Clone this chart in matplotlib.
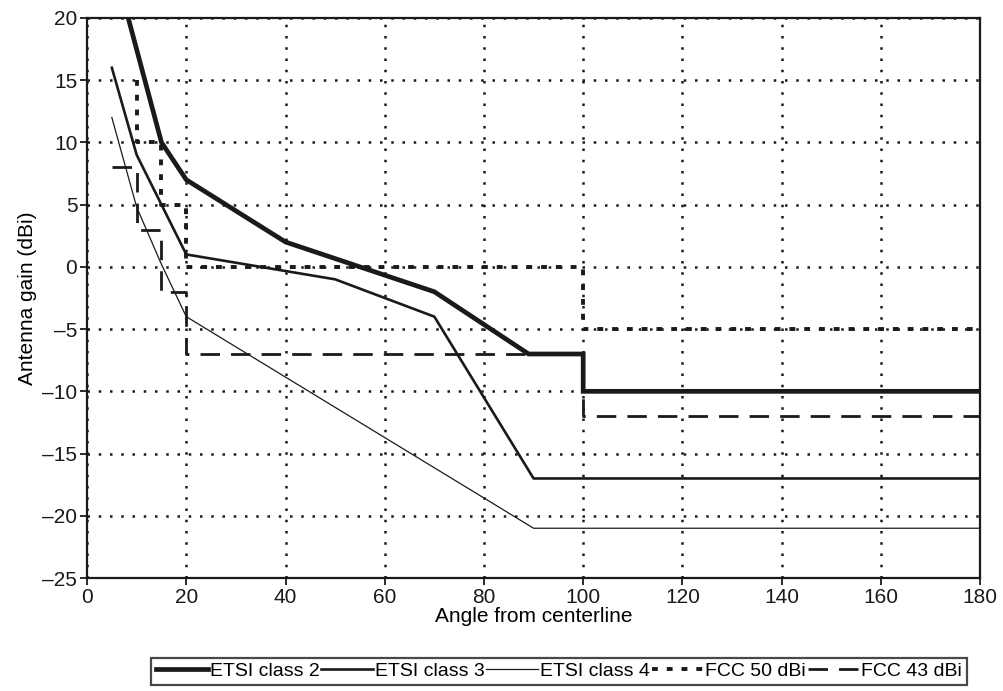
import matplotlib.pyplot as plt

plt.rcParams['font.family'] = ['Liberation Sans', 'DejaVu Sans']

# ETSI masks (angle, gain)
etsi2_x = [8.3, 15, 20, 40, 70, 89, 100, 100, 180]
etsi2_y = [20, 10, 7, 2, -2, -7, -7, -10, -10]
etsi3_x = [5, 10, 20, 50, 70, 90, 180]
etsi3_y = [16, 9, 1, -1, -4, -17, -17]
etsi4_x = [5, 10, 15, 20, 90, 180]
etsi4_y = [12, 4.8, 0.2, -4, -21, -21]

# FCC step masks
fcc50_x = [10, 10, 15, 15, 20, 20, 100, 100, 180]
fcc50_y = [15, 10, 10, 5, 5, 0, 0, -5, -5]
fcc43_x = [5, 10, 10, 15, 15, 20, 20, 100, 100, 180]
fcc43_y = [8, 8, 3, 3, -2, -2, -7, -7, -12, -12]

fig = plt.figure(figsize=(10.04, 6.91), dpi=100)
ax = fig.add_axes([0.0867, 0.1635, 0.8895, 0.8105])

ax.plot(etsi2_x, etsi2_y, color='#1a1a1a', lw=3.4, label='ETSI class 2', solid_joinstyle='miter')
ax.plot(etsi3_x, etsi3_y, color='#1a1a1a', lw=1.9, label='ETSI class 3')
ax.plot(etsi4_x, etsi4_y, color='#1a1a1a', lw=0.9, label='ETSI class 4')
ax.plot(fcc50_x, fcc50_y, color='#1a1a1a', lw=2.8, ls=(0, (1.5, 2.3)), label='FCC 50 dBi')
ax.plot(fcc43_x, fcc43_y, color='#1a1a1a', lw=2.0, ls=(0, (7, 4)), label='FCC 43 dBi')

ax.set_xlim(0, 180)
ax.set_ylim(-25, 20)
ax.set_xticks(range(0, 181, 20))
ax.set_yticks(range(-25, 21, 5))
ax.set_yticklabels([str(v).replace('-', '\u2013') for v in range(-25, 21, 5)])
ax.grid(True, color='#1a1a1a', ls=(0, (1, 3.5)), lw=1.8)
for s in ax.spines.values():
    s.set_linewidth(1.6)
    s.set_color('#1a1a1a')
    s.set_zorder(3)
ax.tick_params(direction='out', length=5, width=1.3, labelsize=15, colors='#1a1a1a', pad=2)

ax.set_xlabel('Angle from centerline', fontsize=15, labelpad=0)
ax.set_ylabel('Antenna gain (dBi)', fontsize=15, labelpad=4)

leg = ax.legend(loc='upper center', bbox_to_anchor=(0.5286, -0.142), ncol=5, frameon=True,
                fancybox=False, edgecolor='#1a1a1a', fontsize=14, handlelength=2.65,
                handletextpad=0.1, columnspacing=0.1, borderpad=0.25, borderaxespad=0)
leg.get_frame().set_linewidth(1.6)

fig.savefig('out.png', dpi=100)
